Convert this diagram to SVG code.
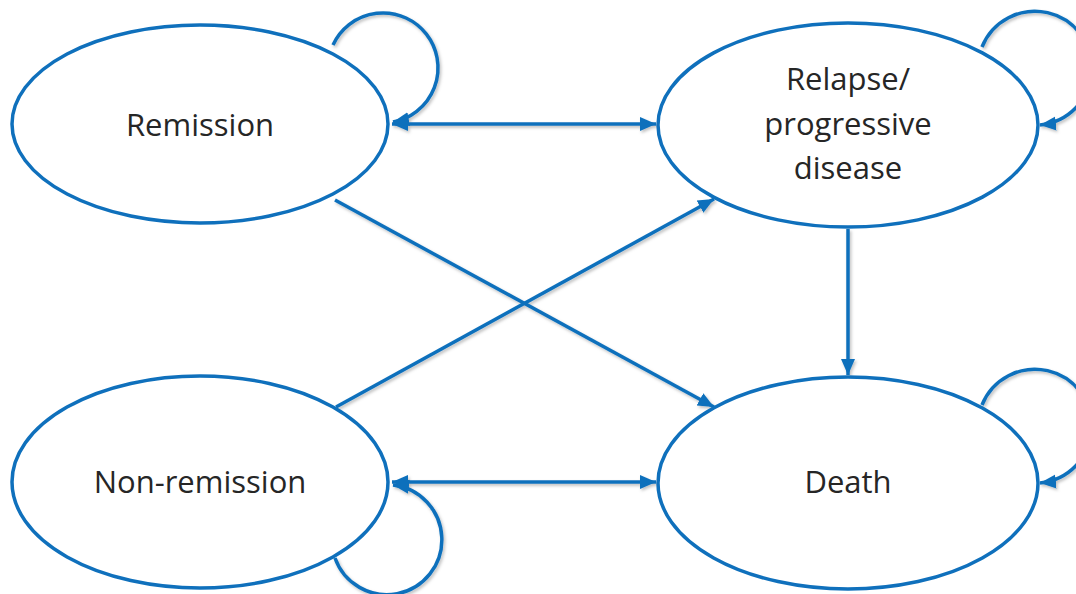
<svg xmlns="http://www.w3.org/2000/svg" width="1076" height="594" viewBox="0 0 1076 594">
<style>
.node{fill:#fff;stroke:#0F70BC;stroke-width:3.5}
.lbl{font-family:"Open Sans","Noto Sans",sans-serif;font-size:31px;fill:#262626;text-anchor:middle}
.conn{fill:none;stroke:#0F70BC;stroke-width:3.5}
</style>
<defs>
<marker id="ah" markerUnits="userSpaceOnUse" markerWidth="18" markerHeight="16" refX="16" refY="7" orient="auto-start-reverse" viewBox="0 0 18 14">
<path d="M0,0 L16,7 L0,14 Z" fill="#0F70BC"/>
</marker>
<filter id="sh" x="-10%" y="-10%" width="120%" height="130%">
<feDropShadow dx="1.5" dy="2" stdDeviation="1.5" flood-color="#000" flood-opacity="0.25"/>
</filter>
</defs>
<g id="connectors" filter="url(#sh)">
<path class="conn" d="M392,124 L656,124" marker-start="url(#ah)" marker-end="url(#ah)"/>
<path class="conn" d="M392,482 L656,482" marker-start="url(#ah)" marker-end="url(#ah)"/>
<path class="conn" d="M335,200 L714,407" marker-end="url(#ah)"/>
<path class="conn" d="M336,407 L714,199" marker-end="url(#ah)"/>
<path class="conn" d="M848,229 L848,375" marker-end="url(#ah)"/>
<path class="conn" d="M333,45 A55,55 0 1 1 393,122" marker-end="url(#ah)"/>
<path class="conn" d="M982,47 A57,57 0 1 1 1040,125" marker-end="url(#ah)"/>
<path class="conn" d="M982,405 A57,57 0 1 1 1040,483" marker-end="url(#ah)"/>
<path class="conn" d="M335,558 A55,55 0 1 0 393,485" marker-end="url(#ah)"/>
</g>
<g id="remission">
<ellipse class="node" cx="200" cy="124" rx="188" ry="99"/>
<text class="lbl" x="200" y="136">Remission</text>
</g>
<g id="relapse">
<ellipse class="node" cx="848" cy="125" rx="190" ry="102"/>
<text class="lbl" x="848" y="90">Relapse/</text>
<text class="lbl" x="848" y="135">progressive</text>
<text class="lbl" x="848" y="179">disease</text>
</g>
<g id="non-remission">
<ellipse class="node" cx="200" cy="482" rx="188" ry="106"/>
<text class="lbl" x="200" y="493">Non-remission</text>
</g>
<g id="death">
<ellipse class="node" cx="848" cy="483" rx="190" ry="106"/>
<text class="lbl" x="848" y="493">Death</text>
</g>
</svg>
